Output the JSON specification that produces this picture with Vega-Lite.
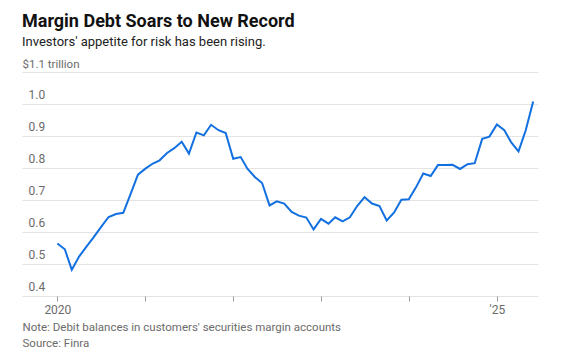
{
  "$schema": "https://vega.github.io/schema/vega-lite/v6.json",
  "autosize": "none",
  "width": 516,
  "height": 224,
  "padding": {"left": 22, "top": 72, "right": 25, "bottom": 62},
  "background": "white",
  "config": {"view": {"stroke": null}, "font": "Roboto"},
  "title": {
    "text": "Margin Debt Soars to New Record",
    "subtitle": "Investors' appetite for risk has been rising.",
    "anchor": "start",
    "frame": "group",
    "font": "Roboto",
    "fontSize": 18,
    "fontWeight": "bold",
    "color": "#111111",
    "subtitleFont": "Roboto",
    "subtitleFontSize": 13,
    "subtitleColor": "#222222",
    "subtitlePadding": 5,
    "offset": 9
  },
  "data": {"values": [
    {"date": "2020-01-01", "v": 0.564},
    {"date": "2020-02-01", "v": 0.546},
    {"date": "2020-03-01", "v": 0.482},
    {"date": "2020-04-01", "v": 0.524},
    {"date": "2020-05-01", "v": 0.554},
    {"date": "2020-06-01", "v": 0.585},
    {"date": "2020-07-01", "v": 0.616},
    {"date": "2020-08-01", "v": 0.647},
    {"date": "2020-09-01", "v": 0.656},
    {"date": "2020-10-01", "v": 0.660},
    {"date": "2020-11-01", "v": 0.720},
    {"date": "2020-12-01", "v": 0.779},
    {"date": "2021-01-01", "v": 0.798},
    {"date": "2021-02-01", "v": 0.814},
    {"date": "2021-03-01", "v": 0.824},
    {"date": "2021-04-01", "v": 0.847},
    {"date": "2021-05-01", "v": 0.862},
    {"date": "2021-06-01", "v": 0.882},
    {"date": "2021-07-01", "v": 0.845},
    {"date": "2021-08-01", "v": 0.911},
    {"date": "2021-09-01", "v": 0.902},
    {"date": "2021-10-01", "v": 0.935},
    {"date": "2021-11-01", "v": 0.918},
    {"date": "2021-12-01", "v": 0.909},
    {"date": "2022-01-01", "v": 0.829},
    {"date": "2022-02-01", "v": 0.834},
    {"date": "2022-03-01", "v": 0.798},
    {"date": "2022-04-01", "v": 0.772},
    {"date": "2022-05-01", "v": 0.753},
    {"date": "2022-06-01", "v": 0.683},
    {"date": "2022-07-01", "v": 0.696},
    {"date": "2022-08-01", "v": 0.689},
    {"date": "2022-09-01", "v": 0.663},
    {"date": "2022-10-01", "v": 0.651},
    {"date": "2022-11-01", "v": 0.645},
    {"date": "2022-12-01", "v": 0.608},
    {"date": "2023-01-01", "v": 0.641},
    {"date": "2023-02-01", "v": 0.626},
    {"date": "2023-03-01", "v": 0.646},
    {"date": "2023-04-01", "v": 0.633},
    {"date": "2023-05-01", "v": 0.646},
    {"date": "2023-06-01", "v": 0.682},
    {"date": "2023-07-01", "v": 0.709},
    {"date": "2023-08-01", "v": 0.689},
    {"date": "2023-09-01", "v": 0.681},
    {"date": "2023-10-01", "v": 0.636},
    {"date": "2023-11-01", "v": 0.661},
    {"date": "2023-12-01", "v": 0.701},
    {"date": "2024-01-01", "v": 0.702},
    {"date": "2024-02-01", "v": 0.741},
    {"date": "2024-03-01", "v": 0.783},
    {"date": "2024-04-01", "v": 0.775},
    {"date": "2024-05-01", "v": 0.809},
    {"date": "2024-06-01", "v": 0.809},
    {"date": "2024-07-01", "v": 0.810},
    {"date": "2024-08-01", "v": 0.797},
    {"date": "2024-09-01", "v": 0.812},
    {"date": "2024-10-01", "v": 0.815},
    {"date": "2024-11-01", "v": 0.891},
    {"date": "2024-12-01", "v": 0.898},
    {"date": "2025-01-01", "v": 0.936},
    {"date": "2025-02-01", "v": 0.918},
    {"date": "2025-03-01", "v": 0.881},
    {"date": "2025-04-01", "v": 0.852},
    {"date": "2025-05-01", "v": 0.918},
    {"date": "2025-06-01", "v": 1.008}
  ]},
  "mark": {"type": "line", "color": "#1370e0", "strokeWidth": 2},
  "encoding": {
    "x": {
      "field": "date",
      "type": "temporal",
      "scale": {"domain": ["2019-08-07", "2025-06-21"]},
      "axis": {
        "values": ["2020-01-01", "2021-01-01", "2022-01-01", "2023-01-01", "2024-01-01", "2025-01-01"],
        "labelExpr": "year(datum.value) == 2020 ? '2020' : (year(datum.value) == 2025 ? \"'25\" : '')",
        "grid": false,
        "domain": false,
        "ticks": true,
        "tickSize": 5,
        "tickColor": "#9a9a9a",
        "labelFont": "Roboto",
        "labelFontSize": 12,
        "labelColor": "#6b6b6b",
        "labelPadding": 3,
        "title": ["Note: Debit balances in customers' securities margin accounts", "Source: Finra"],
        "titleFont": "Roboto",
        "titleFontSize": 11.5,
        "titleFontWeight": "normal",
        "titleColor": "#6b6b6b",
        "titleAlign": "left",
        "titleAnchor": "start",
        "titleX": 0,
        "titleY": 25,
        "titleBaseline": "top",
        "titleLineHeight": 16
      }
    },
    "y": {
      "field": "v",
      "type": "quantitative",
      "scale": {"domain": [0.4, 1.1], "nice": false, "zero": false},
      "axis": {
        "values": [0.4, 0.5, 0.6, 0.7, 0.8, 0.9, 1.0, 1.1],
        "labelExpr": "datum.value > 1.05 ? '' : format(datum.value, '.1f')",
        "grid": true,
        "gridColor": "#e4e4e4",
        "gridWidth": 1,
        "domain": false,
        "ticks": false,
        "labelAlign": "left",
        "labelBaseline": "bottom",
        "labelPadding": -6,
        "labelOffset": -3,
        "labelFont": "Roboto",
        "labelFontSize": 12,
        "labelColor": "#6b6b6b",
        "title": "$1.1 trillion",
        "titleAngle": 0,
        "titleX": 0,
        "titleY": -3,
        "titleAlign": "left",
        "titleBaseline": "bottom",
        "titleFont": "Roboto",
        "titleFontSize": 11.5,
        "titleFontWeight": "normal",
        "titleColor": "#6b6b6b"
      }
    }
  }
}
